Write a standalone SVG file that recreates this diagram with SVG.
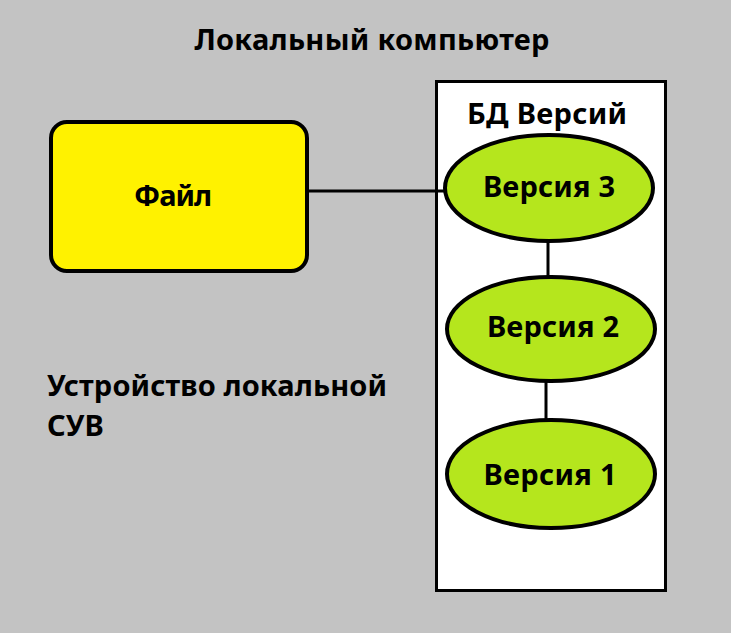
<svg xmlns="http://www.w3.org/2000/svg" width="731" height="633" viewBox="0 0 731 633">
<style>
text{font-family:"Noto Sans","DejaVu Sans",sans-serif;font-weight:bold;font-size:29px;fill:#000}
.c{text-anchor:middle}
.ell{fill:#b5e61d;stroke:#000;stroke-width:4}
.con{stroke:#000;stroke-width:3;fill:none}
</style>
<rect width="731" height="633" fill="#c3c3c3"/>
<text id="title" x="372" y="50" class="c" textLength="355">Локальный компьютер</text>
<g id="db">
<rect x="436.5" y="81.5" width="229" height="509" fill="#fff" stroke="#000" stroke-width="3"/>
<text x="547" y="124" class="c" textLength="160">БД Версий</text>
</g>
<g id="connectors">
<line class="con" x1="304" y1="191" x2="445" y2="191"/>
<line class="con" x1="548" y1="240" x2="548" y2="277"/>
<line class="con" x1="546" y1="381" x2="546" y2="420"/>
</g>
<g id="file">
<rect x="51" y="122" width="256" height="149" rx="16" fill="#fff200" stroke="#000" stroke-width="4"/>
<text x="173" y="206" class="c" textLength="78">Файл</text>
</g>
<g id="v3">
<ellipse class="ell" cx="549" cy="188" rx="104" ry="53"/>
<text x="549" y="197" class="c" textLength="132">Версия 3</text>
</g>
<g id="v2">
<ellipse class="ell" cx="551" cy="329" rx="104" ry="52"/>
<text x="553" y="337" class="c" textLength="132">Версия 2</text>
</g>
<g id="v1">
<ellipse class="ell" cx="551" cy="474" rx="104" ry="54"/>
<text x="550" y="485" class="c" textLength="133">Версия 1</text>
</g>
<text id="label" x="47" y="396"><tspan textLength="340">Устройство локальной</tspan><tspan x="47" y="436">СУВ</tspan></text>
</svg>
